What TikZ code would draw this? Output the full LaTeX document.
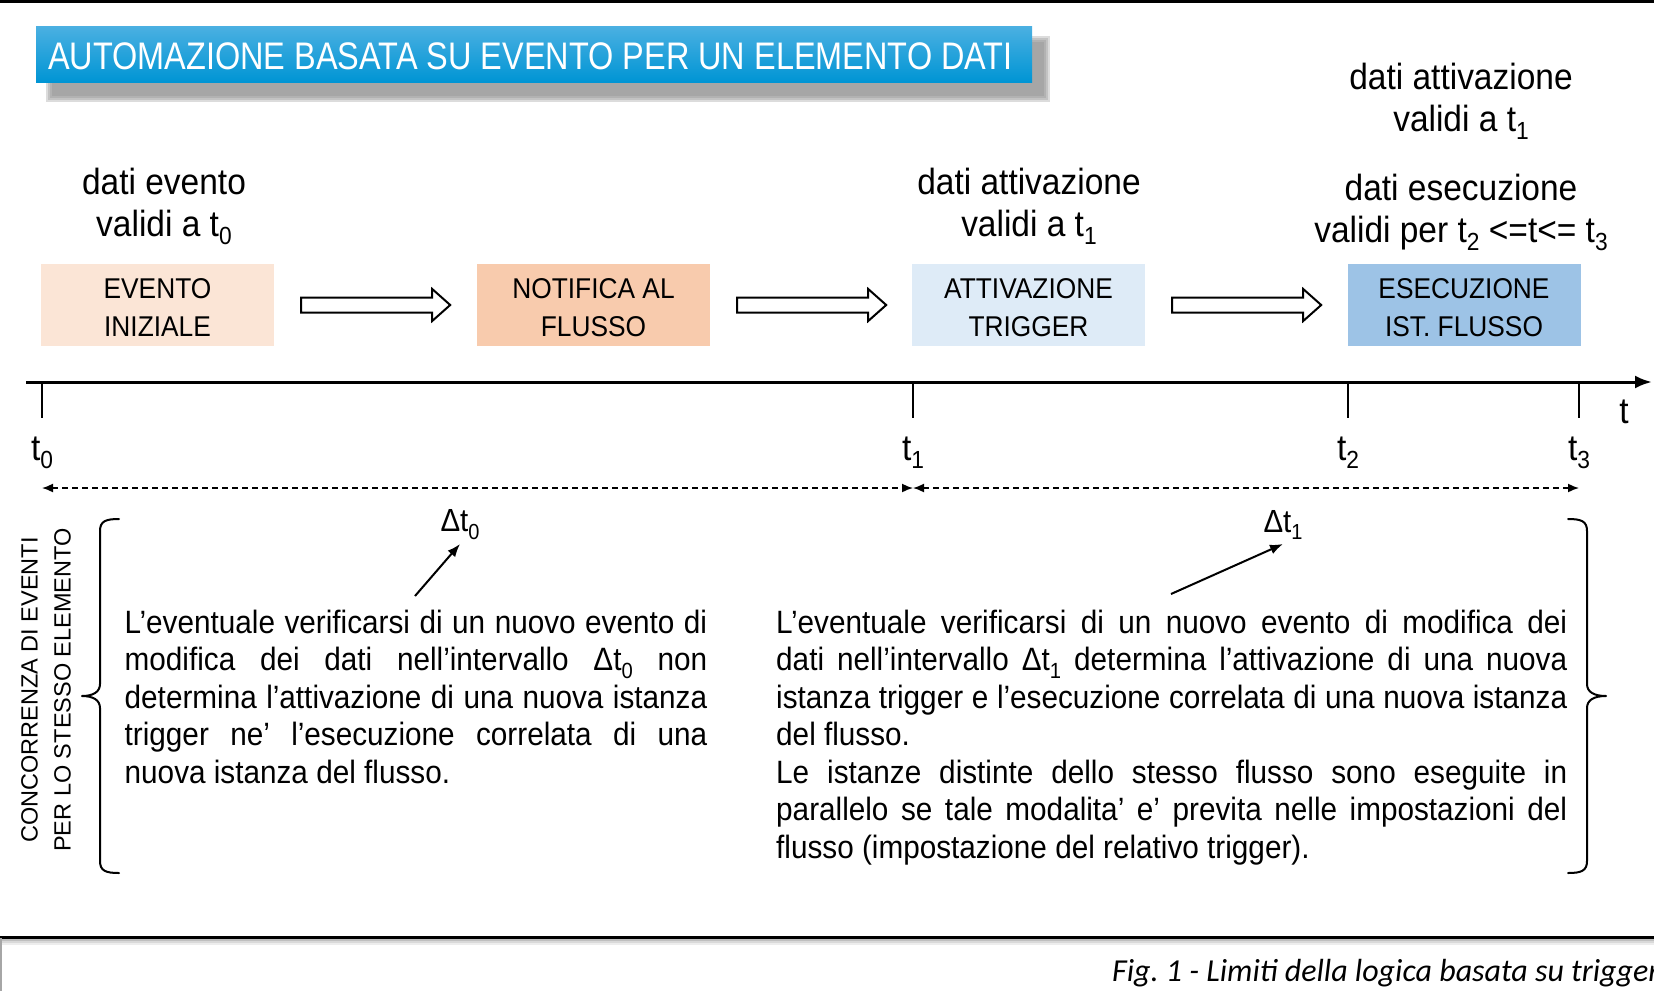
\documentclass[tikz,border=0pt]{standalone}
\usepackage{fontspec}
\usepackage{graphicx}
\setmainfont{Liberation Sans}
\newfontfamily\bodyfont[FakeStretch=0.92]{Liberation Sans}
\newfontfamily\titlefont[FakeStretch=0.845]{Liberation Sans}
\newfontfamily\figcapfont{Carlito}
\usetikzlibrary{arrows.meta,calc}
\definecolor{evbox}{HTML}{FBE5D6}
\definecolor{nfbox}{HTML}{F8CBAD}
\definecolor{atbox}{HTML}{DEEBF7}
\definecolor{esbox}{HTML}{9DC3E6}
\definecolor{titletop}{HTML}{4BB0E2}
\definecolor{titlebot}{HTML}{0095D4}
\newcommand{\sbs}[1]{\raisebox{-0.24em}{\scalebox{0.68}{#1}}}
\newcommand{\jl}[2]{\makebox[#1][s]{#2}}
\begin{document}
\begin{tikzpicture}[x=1pt,y=-1pt,
  stepbox/.style={minimum width=233pt, minimum height=82pt, inner sep=0pt, align=center, font=\bodyfont\fontsize{28.6}{38}\selectfont},
  lab/.style={anchor=base, inner sep=0pt, font=\bodyfont\fontsize{36.4}{42}\selectfont},
  blockarr/.style={draw=black, line width=2pt, fill=white, line join=miter},
  tick/.style={line width=2.5pt},
  dasharr/.style={line width=1.6pt, dash pattern=on 6pt off 4pt, {Latex[length=11pt,width=9pt]}-{Latex[length=11pt,width=9pt]}},
  ptr/.style={line width=2pt, -{Latex[length=13pt,width=10pt]}},
  para/.style={anchor=base west, inner sep=0pt, font=\bodyfont\fontsize{32.3}{37.5}\selectfont},
  brace/.style={line width=2pt, line cap=round, line join=round},
  dlab/.style={anchor=south, inner sep=0pt, font=\bodyfont\fontsize{32}{36}\selectfont},
  boxtext/.style={inner sep=0pt, align=center, font=\bodyfont\fontsize{28.6}{38}\selectfont},
]
\useasboundingbox (0,0) rectangle (1654,991);
\fill[white] (0,0) rectangle (1654,991);

% top rule
\draw[line width=3pt] (0,1.5) -- (1654,1.5);

% title shadow
\foreach \s in {0,2,4,6}{
  \fill[black!45, opacity=0.3] (46+\s,36+\s) rectangle (1050-\s,102-\s);
}
\node[minimum width=996pt, minimum height=56pt, inner sep=0pt, top color=titletop, bottom color=titlebot] (title) at (534,54) {};
\node[anchor=base west, inner sep=0pt, text=white, font=\titlefont\fontsize{38.4}{40}\selectfont] (titletext) at (48,69) {AUTOMAZIONE BASATA SU EVENTO PER UN ELEMENTO DATI};

% labels above
\node[lab] (la1) at (164,194) {dati evento};
\node[lab] (la2) at (164,236) {validi a t\sbs{0}};
\node[lab] (lb1) at (1029,194) {dati attivazione};
\node[lab] (lb2) at (1029,236) {validi a t\sbs{1}};
\node[lab] (lc1) at (1461,89) {dati attivazione};
\node[lab] (lc2) at (1461,131) {validi a t\sbs{1}};
\node[lab] (ld1) at (1461,200) {dati esecuzione};
\node[lab] (ld2) at (1461,242) {validi per t\sbs{2} <=t<= t\sbs{3}};

% boxes
\node[stepbox, fill=evbox] (ev) at (157.5,305) {};
\node[stepbox, fill=nfbox] (nf) at (593.5,305) {};
\node[stepbox, fill=atbox] (at) at (1028.5,305) {};
\node[stepbox, fill=esbox] (es) at (1464,305) {};
\node[boxtext] (evt) at ([yshift=-2.5pt]ev.center) {EVENTO\\INIZIALE};
\node[boxtext] (nft) at ([yshift=-2.5pt]nf.center) {NOTIFICA AL\\FLUSSO};
\node[boxtext] (att) at ([yshift=-2.5pt]at.center) {ATTIVAZIONE\\TRIGGER};
\node[boxtext] (est) at ([yshift=-2.5pt]es.center) {ESECUZIONE\\IST. FLUSSO};

% block arrows
\draw[blockarr] ($(ev.east)+(27,-7.5)$) -- ++(131,0) -- ++(0,-8.5) -- ++(18,16) -- ++(-18,16) -- ++(0,-8.5) -- ++(-131,0) -- cycle;
\draw[blockarr] ($(nf.east)+(27,-7.5)$) -- ++(131,0) -- ++(0,-8.5) -- ++(18,16) -- ++(-18,16) -- ++(0,-8.5) -- ++(-131,0) -- cycle;
\draw[blockarr] ($(at.east)+(27,-7.5)$) -- ++(131,0) -- ++(0,-8.5) -- ++(18,16) -- ++(-18,16) -- ++(0,-8.5) -- ++(-131,0) -- cycle;

% timeline
\coordinate (tl0) at (26,382);
\coordinate (tlend) at (1652,382);
\draw[line width=3pt, -{Latex[length=17pt,width=13pt]}] (tl0) -- (tlend);
\coordinate (T0) at (42,382);
\coordinate (T1) at (913,382);
\coordinate (T2) at (1348,382);
\coordinate (T3) at (1579,382);
\draw[tick] (T0) -- ++(0,36);
\draw[tick] (T1) -- ++(0,36);
\draw[tick] (T2) -- ++(0,36);
\draw[tick] (T3) -- ++(0,36);
\node[lab] (t0) at (42,460) {t\sbs{0}};
\node[lab] (t1) at (913,460) {t\sbs{1}};
\node[lab] (t2) at (1348,460) {t\sbs{2}};
\node[lab] (t3) at (1579,460) {t\sbs{3}};
\node[lab] (tt) at (1624,423) {t};

% dashed intervals
\coordinate (D0) at (42,488);
\coordinate (D1) at (913,488);
\coordinate (D3) at (1579,488);
\draw[dasharr] (D0) -- (D1);
\draw[dasharr] (D1) -- (D3);

% delta labels
\node[dlab] (dl0) at (460,540) {Δt\sbs{0}};
\node[dlab] (dl1) at (1283,540) {Δt\sbs{1}};
\coordinate (a0) at (415,596);
\coordinate (a1) at (1171,594);
\draw[ptr] (a0) -- ([yshift=-4pt]dl0.south);
\draw[ptr] (a1) -- ([yshift=-4pt]dl1.south);

% vertical label
\node[rotate=90, align=center, inner sep=0pt, font=\fontsize{23.5}{33}\selectfont] (conc) at (46,690) {CONCORRENZA DI EVENTI\\PER LO STESSO ELEMENTO};

% braces
\draw[brace] (119,519) .. controls (106,519) and (100,521) .. (100,531) -- (100,684)
  .. controls (100,692) and (93,696) .. (82,696)
  .. controls (93,696) and (100,700) .. (100,708) -- (100,861)
  .. controls (100,871) and (106,873) .. (119,873);
\draw[brace] (1568,519) .. controls (1581,519) and (1587,521) .. (1587,531) -- (1587,684)
  .. controls (1587,692) and (1594,696) .. (1606,696)
  .. controls (1594,696) and (1587,700) .. (1587,708) -- (1587,861)
  .. controls (1587,871) and (1581,873) .. (1568,873);

% left paragraph
\node[para] (p1) at (124.5,633) {\jl{582.5pt}{L’eventuale verificarsi di un nuovo evento di}};
\node[para] (p2) at (124.5,670.5) {\jl{582.5pt}{modifica dei dati nell’intervallo Δt\sbs{0} non}};
\node[para] (p3) at (124.5,708) {\jl{582.5pt}{determina l’attivazione di una nuova istanza}};
\node[para] (p4) at (124.5,745.5) {\jl{582.5pt}{trigger ne’ l’esecuzione correlata di una}};
\node[para] (p5) at (124.5,783) {nuova istanza del flusso.};

% right paragraph
\node[para] (q1) at (776,633) {\jl{791pt}{L’eventuale verificarsi di un nuovo evento di modifica dei}};
\node[para] (q2) at (776,670.5) {\jl{791pt}{dati nell’intervallo Δt\sbs{1} determina l’attivazione di una nuova}};
\node[para] (q3) at (776,708) {\jl{791pt}{istanza trigger e l’esecuzione correlata di una nuova istanza}};
\node[para] (q4) at (776,745.5) {del flusso.};
\node[para] (q5) at (776,783) {\jl{791pt}{Le istanze distinte dello stesso flusso sono eseguite in}};
\node[para] (q6) at (776,820.5) {\jl{791pt}{parallelo se tale modalita’ e’ previta nelle impostazioni del}};
\node[para] (q7) at (776,858) {flusso (impostazione del relativo trigger).};

% bottom rule with shadow
\foreach \s/\o in {1/0.35,3/0.25,5/0.15,7/0.07}{
  \draw[black, opacity=\o, line width=2pt] (0,937+\s) -- (1654,937+\s);
}
\draw[line width=3pt] (0,937) -- (1654,937);
\draw[black!35, line width=1.5pt] (1,938) -- (1,991);

% caption (cut at the right edge, as in the reference)
\node[anchor=base west, inner sep=0pt, font=\figcapfont\itshape\fontsize{32}{38}\selectfont] (cap) at (1112,981) {Fig.\ 1 - Limiti della logica basata su trigger};
\end{tikzpicture}
\end{document}
